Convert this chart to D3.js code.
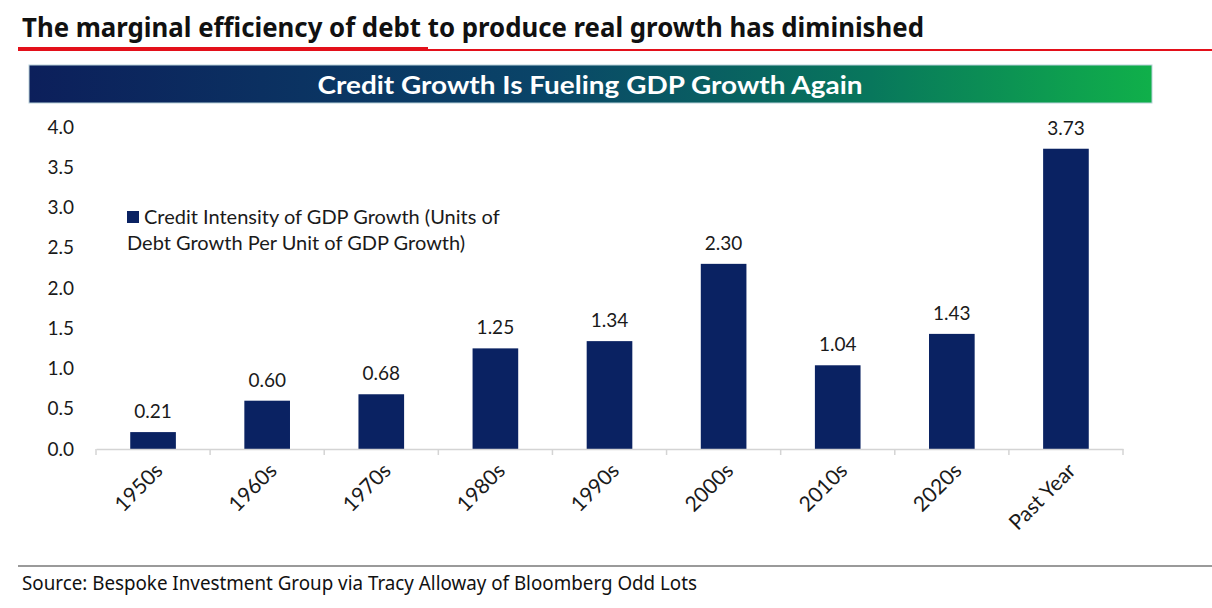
<!DOCTYPE html>
<html>
<head>
<meta charset="utf-8">
<script src="https://cdn.jsdelivr.net/npm/d3@7"></script>
<style>
  body { margin: 0; background: #fff; }
  svg { display: block; }
  .chart-text { font-family: Lato, "Open Sans", sans-serif; fill: #1a1a1a; }
</style>
</head>
<body>
<div id="chart"></div>
<script>
// Data
const categories = ["1950s", "1960s", "1970s", "1980s", "1990s", "2000s", "2010s", "2020s", "Past Year"];
const values = [0.21, 0.6, 0.68, 1.25, 1.34, 2.3, 1.04, 1.43, 3.73];
const yTicks = [0, 0.5, 1, 1.5, 2, 2.5, 3, 3.5, 4];
const legendLines = ["Credit Intensity of GDP Growth (Units of", "Debt Growth Per Unit of GDP Growth)"];
const headline = "The marginal efficiency of debt to produce real growth has diminished";
const bannerTitle = "Credit Growth Is Fueling GDP Growth Again";
const sourceNote = "Source: Bespoke Investment Group via Tracy Alloway of Bloomberg Odd Lots";

const dataset = categories.map((c, i) => ({ cat: c, value: values[i] }));

// Dimensions
let dimensions = {
  width: 1212,
  height: 608,
  left: 96,
  right: 1123,
  top: 127,
  bottom: 449,
};

const svg = d3
  .select("#chart")
  .append("svg")
  .attr("width", dimensions.width)
  .attr("height", dimensions.height);

// Headline + red rule
svg
  .append("text")
  .attr("x", 22)
  .attr("y", 37)
  .attr("textLength", 902)
  .attr("lengthAdjust", "spacingAndGlyphs")
  .style("font-family", "'Noto Sans', 'Open Sans', sans-serif")
  .style("font-weight", 700)
  .style("font-size", "27px")
  .style("fill", "#111")
  .text(headline);

svg.append("rect").attr("x", 18).attr("y", 47).attr("width", 410).attr("height", 4).attr("fill", "#e3101a");
svg.append("rect").attr("x", 428).attr("y", 49).attr("width", 784).attr("height", 2).attr("fill", "#e3101a");

// Banner
const grad = svg.append("defs").append("linearGradient").attr("id", "bannerGrad");
grad.append("stop").attr("offset", "0%").attr("stop-color", "#0c1f5b");
grad.append("stop").attr("offset", "45%").attr("stop-color", "#0a4468");
grad.append("stop").attr("offset", "75%").attr("stop-color", "#08775c");
grad.append("stop").attr("offset", "100%").attr("stop-color", "#10b04a");

svg
  .append("rect")
  .attr("x", 29)
  .attr("y", 65)
  .attr("width", 1123)
  .attr("height", 38)
  .attr("fill", "url(#bannerGrad)")
  .attr("stroke", "#b9d2da")
  .attr("stroke-width", 1);

svg
  .append("text")
  .attr("x", 590)
  .attr("y", 94)
  .attr("text-anchor", "middle")
  .attr("textLength", 545)
  .attr("lengthAdjust", "spacingAndGlyphs")
  .style("font-family", "Lato, sans-serif")
  .style("font-weight", 700)
  .style("font-size", "25px")
  .style("fill", "#fff")
  .text(bannerTitle);

// Scales
const xScale = d3
  .scaleBand()
  .domain(categories)
  .range([dimensions.left, dimensions.right])
  .paddingInner(0.6)
  .paddingOuter(0.3);

const yScale = d3.scaleLinear().domain([0, 4]).range([dimensions.bottom, dimensions.top]);

// Bars
svg
  .append("g")
  .selectAll("rect")
  .data(dataset)
  .join("rect")
  .attr("x", (d) => xScale(d.cat))
  .attr("y", (d) => yScale(d.value))
  .attr("width", xScale.bandwidth())
  .attr("height", (d) => dimensions.bottom - yScale(d.value))
  .attr("fill", "#0a2262");

// Value labels
svg
  .append("g")
  .selectAll("text")
  .data(dataset)
  .join("text")
  .attr("class", "chart-text")
  .attr("x", (d) => xScale(d.cat) + xScale.bandwidth() / 2)
  .attr("y", (d) => yScale(d.value) - 14)
  .attr("text-anchor", "middle")
  .style("font-size", "19px")
  .text((d) => d.value.toFixed(2));

// Y axis (labels only)
const leftAxis = d3.axisLeft(yScale).tickValues(yTicks).tickFormat(d3.format(".1f")).tickSize(0).tickPadding(0);
const yAxisGroup = svg.append("g").attr("transform", "translate(74,0)").call(leftAxis);
yAxisGroup.select(".domain").remove();
yAxisGroup
  .selectAll("text")
  .attr("class", "chart-text")
  .style("font-size", "19px")
  .style("font-family", "Lato, sans-serif")
  .attr("fill", "#1a1a1a");

// X axis
const bottomAxis = d3.axisBottom(xScale).tickSize(0).tickFormat("");
const xAxisGroup = svg.append("g").attr("transform", `translate(0, ${dimensions.bottom})`).call(bottomAxis);
xAxisGroup.select(".domain").attr("stroke", "#d4d4d4").attr("stroke-width", 1.5);

// boundary ticks between the bands
const half = (xScale.step() * xScale.paddingInner()) / 2;
const bounds = categories.map((c) => xScale(c) - half).concat([xScale(categories[categories.length - 1]) + xScale.bandwidth() + half]);
xAxisGroup
  .selectAll("line.bound")
  .data(bounds)
  .join("line")
  .attr("class", "bound")
  .attr("x1", (d) => d)
  .attr("x2", (d) => d)
  .attr("y1", 0)
  .attr("y2", 6)
  .attr("stroke", "#d4d4d4")
  .attr("stroke-width", 1.5);

// category labels
svg
  .append("g")
  .selectAll("text")
  .data(categories)
  .join("text")
  .attr("class", "chart-text")
  .attr("text-anchor", "end")
  .attr("transform", (d) => `translate(${xScale(d) + xScale.bandwidth() / 2 + 11}, ${dimensions.bottom + 23}) rotate(-45)`)
  .style("font-size", "21px")
  .text((d) => d);

// Legend
const legend = svg.append("g");
legend.append("rect").attr("x", 127).attr("y", 211).attr("width", 12).attr("height", 12).attr("fill", "#0a2262");
legend
  .selectAll("text")
  .data(legendLines)
  .join("text")
  .attr("class", "chart-text")
  .attr("x", (d, i) => (i === 0 ? 144 : 127))
  .attr("y", (d, i) => 224 + i * 26)
  .style("font-size", "20px")
  .text((d) => d);

// Footer
svg.append("rect").attr("x", 18).attr("y", 565).attr("width", 1194).attr("height", 2).attr("fill", "#9a9a9a");
svg
  .append("text")
  .attr("x", 22)
  .attr("y", 590)
  .attr("textLength", 675)
  .attr("lengthAdjust", "spacingAndGlyphs")
  .style("font-family", "'Noto Sans', sans-serif")
  .style("font-size", "19px")
  .style("fill", "#111")
  .text(sourceNote);
</script>
</body>
</html>
